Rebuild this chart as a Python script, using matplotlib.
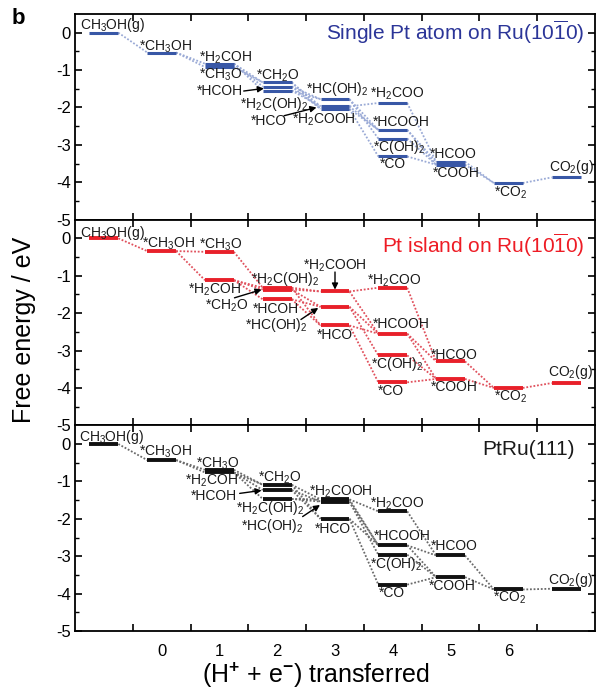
import numpy as np
import matplotlib.pyplot as plt

# Diagrama de energia libre para la oxidacion de metanol en tres superficies
plt.rcParams['font.family'] = ['Liberation Sans', 'DejaVu Sans']
plt.rcParams['mathtext.fontset'] = 'custom'
plt.rcParams['mathtext.rm'] = 'Liberation Sans'
plt.rcParams['mathtext.it'] = 'Liberation Sans'
plt.rcParams['mathtext.bf'] = 'Liberation Sans:bold'

# especies y numero de (H+ + e-) transferidos
especies = ['CH3OH(g)', '*CH3OH', '*CH3O', '*H2COH', '*CH2O', '*HCOH', '*H2C(OH)2',
            '*HCO', '*H2COOH', '*HC(OH)2', '*CO', '*HCOOH', '*C(OH)2', '*H2COO',
            '*COOH', '*HCOO', '*CO2', 'CO2(g)']
pasos = [-1, 0, 1, 1, 2, 2, 2, 3, 3, 3, 4, 4, 4, 4, 5, 5, 6, 7]

# energias (eV)
E_single = [0, -0.53, -0.92, -0.83, -1.33, -1.44, -1.55, -2.04, -1.97, -1.78,
            -3.31, -2.60, -2.83, -1.88, -3.53, -3.45, -4.02, -3.87]
E_island = [0, -0.34, -0.36, -1.12, -1.32, -1.63, -1.37, -2.33, -1.42, -1.83,
            -3.85, -2.55, -3.13, -1.32, -3.76, -3.29, -4.00, -3.87]
E_ptru = [0, -0.43, -0.69, -0.76, -1.09, -1.23, -1.47, -2.00, -1.48, -1.54,
          -3.76, -2.71, -2.96, -1.80, -3.56, -2.98, -3.89, -3.87]

conexiones = [('CH3OH(g)', '*CH3OH'), ('*CH3OH', '*CH3O'), ('*CH3OH', '*H2COH'),
              ('*CH3O', '*CH2O'), ('*H2COH', '*CH2O'), ('*H2COH', '*HCOH'),
              ('*H2COH', '*H2C(OH)2'),
              ('*CH2O', '*HCO'), ('*CH2O', '*H2COOH'), ('*HCOH', '*HCO'),
              ('*HCOH', '*HC(OH)2'), ('*H2C(OH)2', '*H2COOH'), ('*H2C(OH)2', '*HC(OH)2'),
              ('*HCO', '*CO'), ('*HCO', '*HCOOH'), ('*H2COOH', '*H2COO'),
              ('*H2COOH', '*HCOOH'), ('*HC(OH)2', '*HCOOH'), ('*HC(OH)2', '*C(OH)2'),
              ('*CO', '*COOH'), ('*HCOOH', '*COOH'), ('*HCOOH', '*HCOO'),
              ('*C(OH)2', '*COOH'), ('*H2COO', '*HCOO'),
              ('*COOH', '*CO2'), ('*HCOO', '*CO2'), ('*CO2', 'CO2(g)')]

titulos = [r'Single Pt atom on Ru(10$\overline{1}$0)',
           r'Pt island on Ru(10$\overline{1}$0)',
           'PtRu(111)']


def texto(nombre):
    # subindices con mathtext
    s = nombre
    for d in ['2', '3']:
        s = s.replace(d, r'$_' + d + '$')
    return s


# posiciones de las etiquetas (x, y) en coordenadas de datos
etiq_single = {'CH3OH(g)': (-1.42, 0.2), '*CH3OH': (-0.39, -0.38), '*H2COH': (0.64, -0.66),
               '*CH3O': (0.64, -1.13), '*CH2O': (1.64, -1.14), '*HCOH': (0.6, -1.57),
               '*H2C(OH)2': (1.35, -1.9), '*HCO': (1.55, -2.36), '*H2COOH': (2.26, -2.33),
               '*HC(OH)2': (2.5, -1.51), '*H2COO': (3.61, -1.64), '*HCOOH': (3.65, -2.38),
               '*C(OH)2': (3.65, -3.05), '*CO': (3.77, -3.51), '*HCOO': (4.64, -3.24),
               '*COOH': (4.69, -3.75), '*CO2': (5.75, -4.27), 'CO2(g)': (6.7, -3.6)}
etiq_island = {'CH3OH(g)': (-1.42, 0.15), '*CH3OH': (-0.34, -0.14), '*CH3O': (0.64, -0.16),
               '*H2COH': (0.46, -1.37), '*CH2O': (0.75, -1.81), '*H2C(OH)2': (1.55, -1.1),
               '*HCOH': (1.58, -1.88), '*H2COOH': (2.44, -0.74), '*H2COO': (3.56, -1.14),
               '*HC(OH)2': (1.44, -2.33), '*HCO': (2.68, -2.58), '*HCOOH': (3.65, -2.29),
               '*C(OH)2': (3.62, -3.36), '*CO': (3.74, -4.07), '*HCOO': (4.65, -3.12),
               '*COOH': (4.65, -3.98), '*CO2': (5.75, -4.25), 'CO2(g)': (6.69, -3.58)}
etiq_ptru = {'CH3OH(g)': (-1.43, 0.18), '*CH3OH': (-0.39, -0.22), '*CH3O': (0.59, -0.52),
             '*H2COH': (0.4, -0.99), '*HCOH': (0.51, -1.39), '*CH2O': (1.66, -0.9),
             '*H2C(OH)2': (1.29, -1.72), '*HC(OH)2': (1.38, -2.19), '*H2COOH': (2.55, -1.27),
             '*HCO': (2.65, -2.27), '*H2COO': (3.6, -1.61), '*HCOOH': (3.67, -2.46),
             '*C(OH)2': (3.6, -3.2), '*CO': (3.76, -3.98), '*HCOO': (4.66, -2.73),
             '*COOH': (4.63, -3.79), '*CO2': (5.74, -4.12), 'CO2(g)': (6.68, -3.64)}

# flechas (cola, punta)
flechas_single = [((1.42, -1.56), (1.77, -1.49)), ((2.12, -2.22), (2.68, -2.0))]
flechas_island = [((1.26, -1.59), (1.73, -1.37)), ((3.0, -0.9), (3.0, -1.37)),
                  ((2.41, -2.17), (2.71, -1.86))]
flechas_ptru = [((1.35, -1.32), (1.73, -1.24)), ((2.44, -1.94), (2.74, -1.63))]

energias = [E_single, E_island, E_ptru]
etiquetas = [etiq_single, etiq_island, etiq_ptru]
flechas = [flechas_single, flechas_island, flechas_ptru]
color_barra = ['#3857a6', '#e8202a', '#111111']
color_linea = ['#9aaad6', '#e0505c', '#6a6a6a']
color_titulo = ['#2b3598', '#ee1c25', '#1a1a1a']
grosor_barra = [2.2, 2.8, 2.8]
y_titulo = [0.0, -0.2, -0.14]
x_titulo = [7.32, 7.32, 7.15]

fig = plt.figure(figsize=(5.97, 6.95), dpi=100)

izq = 75 / 597.0
ancho = 520 / 597.0
abajo = 1 - 631 / 695.0
alto = (617 / 695.0) / 3

semi = 0.25
for k in range(3):
    ax = fig.add_axes([izq, abajo + (2 - k) * alto, ancho, alto])
    E = energias[k]
    pos = dict(zip(especies, zip(pasos, E)))

    for a, b in conexiones:
        xa, ya = pos[a]
        xb, yb = pos[b]
        ax.plot([xa + semi, xb - semi], [ya, yb], linestyle=(0, (1, 1)),
                color=color_linea[k], lw=1.3, zorder=1)

    for i in range(len(especies)):
        ax.plot([pasos[i] - semi, pasos[i] + semi], [E[i], E[i]],
                color=color_barra[k], lw=grosor_barra[k], solid_capstyle='butt', zorder=2)

    for nombre, (tx, ty) in etiquetas[k].items():
        ax.text(tx, ty, texto(nombre), fontsize=10, ha='left', va='center',
                color='#1a1a1a', zorder=3)

    for cola, punta in flechas[k]:
        ax.annotate('', xy=punta, xytext=cola,
                    arrowprops=dict(arrowstyle='-|>', color='black', lw=1.0,
                                    mutation_scale=9, shrinkA=0, shrinkB=0))

    ax.text(x_titulo[k], y_titulo[k], titulos[k], fontsize=15, ha='right',
            va='center', color=color_titulo[k])

    ax.set_xlim(-1.5, 7.5)
    ax.set_ylim(-5, 0.5)
    ax.set_xticks(np.arange(-0.5, 7.0, 1.0))
    ax.set_yticks(np.arange(-5, 1, 1))
    ax.set_yticks(np.arange(-4.5, 0.5, 1.0), minor=True)
    ax.set_yticklabels([str(v) for v in range(-5, 1)])
    ax.tick_params(axis='both', which='major', direction='in', top=True, right=True,
                   length=5, width=1.2, labelsize=12, pad=3)
    ax.tick_params(axis='y', which='minor', direction='in', right=True, length=3, width=1)
    for s in ax.spines.values():
        s.set_linewidth(1.3)

    if k < 2:
        ax.set_xticklabels([])
    else:
        ax.set_xticklabels([])
        ax.set_xticks(np.arange(0, 7), labels=[str(v) for v in range(0, 7)], minor=True)
        ax.tick_params(axis='x', which='minor', length=0, labelsize=12, pad=9)

fig.text(0.04, 0.525, 'Free energy / eV', rotation=90, fontsize=18,
         ha='center', va='center')
fig.text(316 / 597.0, 1 - 675 / 695.0, r'(H$^{\mathbf{+}}$ + e$^{\mathbf{-}}$) transferred',
         fontsize=18, ha='center', va='center')
fig.text(0.02, 0.974, 'b', fontsize=16, fontweight='bold', ha='left', va='center')

fig.savefig('out.png', dpi=100)
